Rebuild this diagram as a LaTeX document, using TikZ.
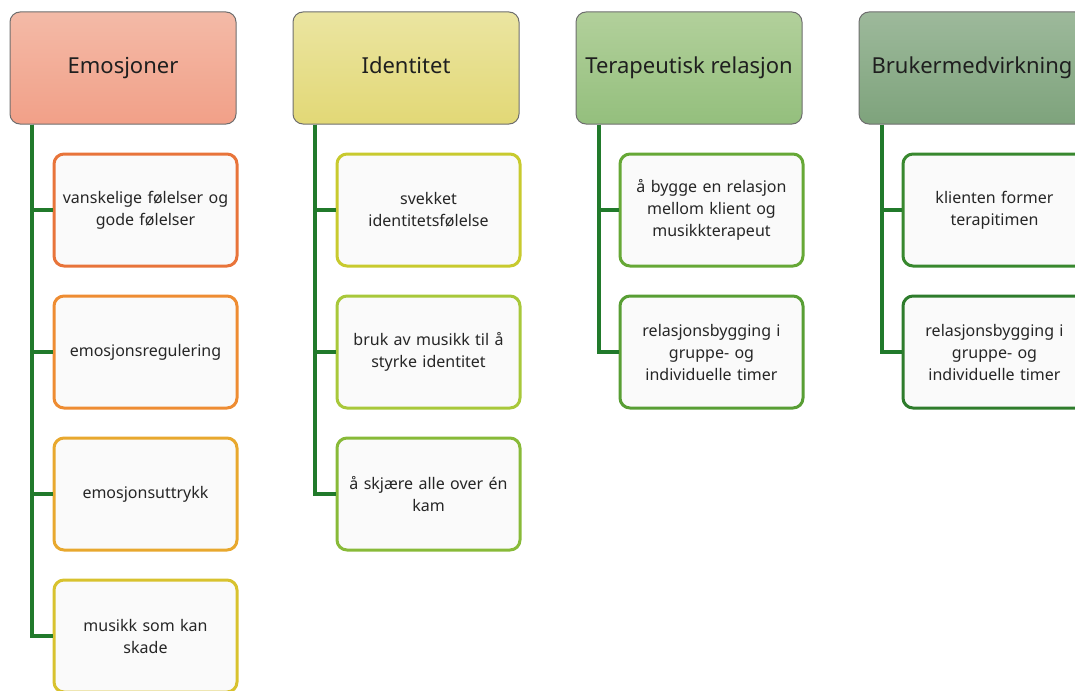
\documentclass[tikz,border=0pt]{standalone}
\usepackage{fontspec}
\setmainfont{Noto Sans}
\usepackage{xcolor}
\usepackage{tikz}
\usetikzlibrary{positioning, calc}

\definecolor{lineGreen}{HTML}{217A2B}
\definecolor{headEdge}{HTML}{6E6E6E}
\definecolor{cardFill}{HTML}{FAFAFA}
% header gradients
\definecolor{emoTop}{RGB}{243,186,167}
\definecolor{emoBot}{RGB}{242,160,136}
\definecolor{identTop}{RGB}{235,229,161}
\definecolor{identBot}{RGB}{226,216,118}
\definecolor{terTop}{RGB}{178,208,155}
\definecolor{terBot}{RGB}{148,191,125}
\definecolor{brukTop}{RGB}{157,185,155}
\definecolor{brukBot}{RGB}{126,163,124}
% card edges
\definecolor{edgeA}{RGB}{232,116,58}
\definecolor{edgeB}{RGB}{238,140,50}
\definecolor{edgeC}{RGB}{232,168,46}
\definecolor{edgeD}{RGB}{216,194,46}
\definecolor{edgeE}{RGB}{200,202,46}
\definecolor{edgeF}{RGB}{168,200,58}
\definecolor{edgeG}{RGB}{136,186,56}
\definecolor{edgeH}{RGB}{102,168,54}
\definecolor{edgeI}{RGB}{88,158,52}
\definecolor{edgeJ}{RGB}{56,136,46}
\definecolor{edgeK}{RGB}{46,124,44}

\begin{document}
\begin{tikzpicture}[x=1pt, y=-1pt,
   head/.style={draw=headEdge, line width=1pt, rounded corners=10pt, minimum width=226pt, minimum height=112pt,
      align=center, text height=16pt, text depth=5pt, font=\fontsize{22}{26}\selectfont, text=black!88},
   card/.style={draw=#1, line width=3pt, rounded corners=10pt, fill=cardFill, minimum width=183pt, minimum height=112pt,
      text width=176pt, align=center, font=\fontsize{16}{22}\selectfont, text=black!85},
   conn/.style={draw=lineGreen, line width=4pt}]
\useasboundingbox (0,0) rectangle (1075,690);
\clip (0,0) rectangle (1075,690);

% headers
\node[head, top color=emoTop, bottom color=emoBot] (emo) at (123,68) {Emosjoner};
\node[head, top color=identTop, bottom color=identBot] (ident) at (406,68) {Identitet};
\node[head, top color=terTop, bottom color=terBot] (ter) at (689,68) {Terapeutisk relasjon};
\node[head, top color=brukTop, bottom color=brukBot] (bruk) at (972,68) {Brukermedvirkning};

% Emosjoner
\node[card=edgeA] (emoA) at (145.5,210) {vanskelige følelser og\\gode følelser};
\node[card=edgeB] (emoB) at (145.5,352) {emosjonsregulering};
\node[card=edgeC] (emoC) at (145.5,494) {emosjonsuttrykk};
\node[card=edgeD] (emoD) at (145.5,636) {musikk som kan\\skade};

% Identitet
\node[card=edgeE] (identA) at (428.5,210) {svekket\\identitetsfølelse};
\node[card=edgeF] (identB) at (428.5,352) {bruk av musikk til å\\styrke identitet};
\node[card=edgeG] (identC) at (428.5,494) {å skjære alle over én\\kam};

% Terapeutisk relasjon
\node[card=edgeH] (terA) at (711.5,210) {å bygge en relasjon\\mellom klient og\\musikkterapeut};
\node[card=edgeI] (terB) at (711.5,352) {relasjonsbygging i\\gruppe- og\\individuelle timer};

% Brukermedvirkning
\node[card=edgeJ] (brukA) at (994.5,210) {klienten former\\terapitimen};
\node[card=edgeK] (brukB) at (994.5,352) {relasjonsbygging i\\gruppe- og\\individuelle timer};

% connectors
\foreach \c in {emoA, emoB, emoC, emoD}
   \draw[conn] ([xshift=22pt]emo.south west) |- (\c.west);
\foreach \c in {identA, identB, identC}
   \draw[conn] ([xshift=22pt]ident.south west) |- (\c.west);
\foreach \c in {terA, terB}
   \draw[conn] ([xshift=23pt]ter.south west) |- (\c.west);
\foreach \c in {brukA, brukB}
   \draw[conn] ([xshift=23pt]bruk.south west) |- (\c.west);
\end{tikzpicture}
\end{document}
